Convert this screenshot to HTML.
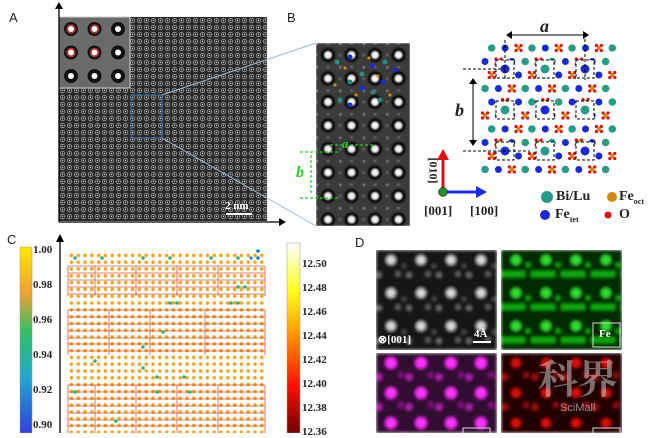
<!DOCTYPE html>
<html><head><style>
body{margin:0;background:#fff;width:652px;height:433px;overflow:hidden;position:relative;font-family:"Liberation Sans",sans-serif}
.t{position:absolute;font-family:"Liberation Serif",serif;font-weight:bold;font-size:11px;color:#222}
.L{position:absolute;font-family:"Liberation Sans",sans-serif;font-size:13px;color:#222}
</style></head><body>
<svg width="652" height="433" style="position:absolute;left:0;top:0">
<defs>
<filter id="bl" x="0" y="0" width="1" height="1"><feGaussianBlur stdDeviation="1.6"/></filter>
<filter id="bl2" x="0" y="0" width="1" height="1"><feGaussianBlur stdDeviation="0.8"/></filter>
<pattern id="ga" x="59" y="17" width="7" height="7" patternUnits="userSpaceOnUse">
<rect width="7" height="7" fill="#2b2b2b"/><circle cx="3.5" cy="3.5" r="2.2" fill="none" stroke="#999" stroke-width="0.8"/><circle cx="3.5" cy="3.5" r="0.7" fill="#ccc"/></pattern>
<pattern id="gi" x="59" y="17" width="23.5" height="23.5" patternUnits="userSpaceOnUse">
<rect width="23.5" height="23.5" fill="#6a6a6a"/><circle cx="12" cy="12" r="7" fill="#111"/><circle cx="12" cy="12" r="3" fill="#fff"/></pattern>
<pattern id="gb" x="316" y="43" width="23.5" height="23.5" patternUnits="userSpaceOnUse">
<rect width="23.5" height="23.5" fill="#3a3a3a"/><circle cx="12" cy="12" r="7.5" fill="#0a0a0a"/><circle cx="12" cy="12" r="3.5" fill="#f4f4f4"/><circle cx="0" cy="0" r="2" fill="#999"/><circle cx="12" cy="0" r="1.3" fill="#888"/><circle cx="0" cy="12" r="1.3" fill="#888"/></pattern>
<pattern id="gc" x="68" y="252" width="6.8" height="6.8" patternUnits="userSpaceOnUse">
<rect width="6.8" height="6.8" fill="#fff"/><circle cx="3.4" cy="3.4" r="1.8" fill="#f3a328"/></pattern>
<pattern id="gd" x="376" y="250" width="30" height="33" patternUnits="userSpaceOnUse">
<rect width="30" height="33" fill="#151515"/><circle cx="15" cy="10" r="4.5" fill="#ddd"/><circle cx="3" cy="25" r="2.5" fill="#777"/><circle cx="22" cy="24" r="2.5" fill="#666"/><circle cx="28" cy="16" r="2" fill="#555"/></pattern>
<pattern id="gg" x="501" y="250" width="30" height="33" patternUnits="userSpaceOnUse">
<rect width="30" height="33" fill="#062a06"/><circle cx="15" cy="10" r="5" fill="#3d3"/><rect x="0" y="21" width="24" height="6" fill="#1a1"/><circle cx="27" cy="15" r="2.5" fill="#1a1"/></pattern>
<pattern id="gm" x="376" y="353" width="30" height="30" patternUnits="userSpaceOnUse">
<rect width="30" height="30" fill="#300830"/><circle cx="15" cy="10" r="5.5" fill="#f3f"/><circle cx="3" cy="24" r="3.5" fill="#a2a"/><circle cx="25" cy="22" r="3" fill="#818"/></pattern>
<pattern id="gr" x="501" y="353" width="30" height="30" patternUnits="userSpaceOnUse">
<rect width="30" height="30" fill="#220404"/><circle cx="15" cy="10" r="4.5" fill="#d11"/><circle cx="4" cy="24" r="3.5" fill="#911"/><circle cx="25" cy="22" r="3" fill="#811"/></pattern>
<linearGradient id="cl" x1="0" y1="0" x2="0" y2="1"><stop offset="0" stop-color="#ffea00"/><stop offset=".25" stop-color="#f0a030"/><stop offset=".45" stop-color="#30c060"/><stop offset=".7" stop-color="#20a8d0"/><stop offset="1" stop-color="#3040e0"/></linearGradient>
<linearGradient id="cr" x1="0" y1="0" x2="0" y2="1"><stop offset="0" stop-color="#fff"/><stop offset=".25" stop-color="#ffff20"/><stop offset=".45" stop-color="#ffa500"/><stop offset=".75" stop-color="#ff1000"/><stop offset="1" stop-color="#700000"/></linearGradient>
</defs>
<!-- A -->
<rect x="59" y="17" width="208" height="204" fill="url(#ga)"/>
<rect x="59" y="17" width="71" height="71" fill="url(#gi)" stroke="#ccc"/>
<g fill="none" stroke="#c03030" stroke-width="1.5"><circle cx="71" cy="29" r="4"/><circle cx="94.5" cy="29" r="4"/><circle cx="71" cy="52.5" r="4"/><circle cx="94.5" cy="52.5" r="4"/></g>
<rect x="131" y="95" width="31" height="43" fill="none" stroke="#3a6a9a" stroke-width="1.2"/>
<line x1="162" y1="95" x2="316" y2="43" stroke="#9ab8d8"/><line x1="162" y1="138" x2="316" y2="226" stroke="#9ab8d8"/>
<line x1="59" y1="222" x2="59" y2="8" stroke="#000" stroke-width="1.3"/><path d="M55,9 L59,2 L63,9Z"/>
<line x1="59" y1="222" x2="280" y2="222" stroke="#000" stroke-width="1.3"/><path d="M279,218 L286,222 L279,226Z"/>
<rect x="226" y="213" width="26" height="2" fill="#fff"/>
<!-- B -->
<rect x="316" y="43" width="94" height="183" fill="url(#gb)" filter="url(#bl2)"/>
<g fill="#2a8a80"><circle cx="337" cy="62" r="2.5"/><circle cx="362" cy="74" r="2.5"/><circle cx="385" cy="62" r="2.5"/><circle cx="350" cy="82" r="2.5"/><circle cx="373" cy="92" r="2.5"/><circle cx="340" cy="100" r="2.5"/><circle cx="380" cy="100" r="2.5"/></g>
<g fill="#1a2ad0"><circle cx="350" cy="57" r="2.5"/><circle cx="372" cy="66" r="2.5"/><circle cx="362" cy="88" r="2.5"/><circle cx="350" cy="105" r="2.5"/><circle cx="383" cy="82" r="2.5"/><circle cx="395" cy="70" r="2.5"/></g>
<g fill="#d08a10"><circle cx="345" cy="68" r="1.6"/><circle cx="369" cy="58" r="1.6"/><circle cx="356" cy="95" r="1.6"/><circle cx="378" cy="76" r="1.6"/><circle cx="390" cy="95" r="1.6"/><circle cx="335" cy="85" r="1.6"/></g>
<g stroke="#2c2" stroke-width="1.2" stroke-dasharray="3,2" fill="none"><line x1="300" y1="152" x2="340" y2="152"/><line x1="300" y1="198" x2="340" y2="198"/><line x1="311" y1="155" x2="311" y2="195"/><line x1="330" y1="145" x2="375" y2="145"/></g>
<!-- crystal -->
<g id="cry"></g>
<g>
<line x1="512" y1="35" x2="583" y2="35" stroke="#000"/><path d="M512,31 L506,35 L512,39Z M583,31 L589,35 L583,39Z"/>
<line x1="473" y1="84" x2="473" y2="140" stroke="#000"/><path d="M469,84 L473,78 L477,84Z M469,140 L473,146 L477,140Z"/>
<g stroke="#000" stroke-dasharray="3,2"><line x1="463" y1="69" x2="505" y2="69"/><line x1="463" y1="151" x2="530" y2="151"/><line x1="505" y1="40" x2="505" y2="80"/><line x1="585" y1="34" x2="585" y2="80"/></g>
</g>
<!-- axes -->
<line x1="443" y1="192" x2="443" y2="158" stroke="#e01010" stroke-width="3"/><path d="M437,160 L443,149 L449,160Z" fill="#e01010"/>
<line x1="443" y1="192" x2="478" y2="192" stroke="#1a30e0" stroke-width="3"/><path d="M476,186 L487,192 L476,198Z" fill="#1a30e0"/>
<circle cx="443" cy="192" r="4.5" fill="#2a8a2a" stroke="#000" stroke-width=".5"/>
<circle cx="547" cy="197" r="6" fill="#2a9a8a"/><circle cx="612" cy="197" r="5" fill="#d08a10"/>
<circle cx="545" cy="215" r="5" fill="#1a2ad0"/><circle cx="608" cy="215" r="3.5" fill="#e01010"/>
<!-- C -->
<rect x="20" y="247" width="12" height="186" fill="url(#cl)" stroke="#999" stroke-width=".5"/>
<rect x="287" y="243" width="13" height="190" fill="url(#cr)" stroke="#999" stroke-width=".5"/>
<rect x="66" y="250" width="200" height="183" fill="url(#gc)"/>
<g stroke="#c83a20" stroke-width="0.8" fill="none" opacity=".85">
<path d="M68,266 H265 M68,273 H265 M68,280 H265 M68,287 H265 M68,294 H265 M68,310 H265 M68,317 H265 M68,324 H265 M68,331 H265 M68,338 H265 M68,344 H265 M68,351 H265 M68,385 H265 M68,392 H265 M68,399 H265 M68,406 H265 M68,413 H265 M68,420 H265 M68,426 H265"/>
<path d="M68,266 V296 M95,266 V296 M136,266 V296 M177,266 V296 M218,266 V296 M265,266 V296 M68,310 V355 M109,310 V355 M150,310 V355 M205,310 V355 M265,310 V355 M68,385 V433 M95,385 V433 M136,385 V433 M177,385 V433 M218,385 V433 M265,385 V433"/>
</g>
<g fill="#30b070"><circle cx="75" cy="258" r="1.8"/><circle cx="102" cy="258" r="1.8"/><circle cx="143" cy="258" r="1.8"/><circle cx="170" cy="258" r="1.8"/><circle cx="211" cy="258" r="1.8"/><circle cx="238" cy="258" r="1.8"/><circle cx="238" cy="287" r="1.8"/><circle cx="245" cy="287" r="1.8"/><circle cx="231" cy="303" r="1.8"/><circle cx="238" cy="303" r="1.8"/><circle cx="170" cy="303" r="1.8"/><circle cx="177" cy="303" r="1.8"/><circle cx="163" cy="332" r="1.8"/><circle cx="143" cy="347" r="1.8"/><circle cx="95" cy="361" r="1.8"/><circle cx="143" cy="368" r="1.8"/><circle cx="157" cy="377" r="1.8"/><circle cx="184" cy="377" r="1.8"/><circle cx="157" cy="392" r="1.8"/><circle cx="190" cy="392" r="1.8"/><circle cx="116" cy="421" r="1.8"/><circle cx="75" cy="392" r="1.8"/></g>
<g fill="#1080c0"><circle cx="258" cy="251" r="1.8"/><circle cx="258" cy="258" r="1.8"/><circle cx="251" cy="258" r="1.6"/></g>
<line x1="60" y1="433" x2="60" y2="240" stroke="#000" stroke-width="1.3"/><path d="M56,242 L60,234 L64,242Z"/>
<!-- D -->
<rect x="376" y="250" width="121" height="100" fill="url(#gd)" filter="url(#bl)"/>
<rect x="501" y="250" width="121" height="100" fill="url(#gg)" filter="url(#bl)"/>
<rect x="376" y="353" width="121" height="80" fill="url(#gm)" filter="url(#bl)"/>
<rect x="501" y="353" width="121" height="80" fill="url(#gr)" filter="url(#bl)"/>
<rect x="593" y="323" width="27" height="24" fill="none" stroke="#ddd"/>
<rect x="463" y="428" width="27" height="10" fill="none" stroke="#ddd"/>
<rect x="593" y="428" width="27" height="10" fill="none" stroke="#ddd"/>
<rect x="473" y="341" width="18" height="2" fill="#fff"/>
</svg>
<script>
(function(){var g=document.getElementById('cry'),s='';
function c(x,y,r,f){s+='<circle cx="'+x+'" cy="'+y+'" r="'+r+'" fill="'+f+'"/>';}
function O4(x,y){s+='<g fill="#e01010"><circle cx="'+(x-2.5)+'" cy="'+(y-2.5)+'" r="1.6"/><circle cx="'+(x+2.5)+'" cy="'+(y-2.5)+'" r="1.6"/><circle cx="'+(x-2.5)+'" cy="'+(y+2.5)+'" r="1.6"/><circle cx="'+(x+2.5)+'" cy="'+(y+2.5)+'" r="1.6"/></g>';c(x,y,2.2,'#d08a10');}
for(var r=0;r<10;r++){var y=48+r*13.5;var off=(r%2)?0:6.7;
for(var k=0;k<10;k++){var x=485+off+k*13.4;if(x>615)continue;
var t=(k+r)%3;
if(r%3==1){ if(k%3==1) O4(x,y); else if(k%2) c(x,y,3.8,'#2a9a8a'); else c(x,y,3.5,'#1a2ad0');}
else{ if(t==0) c(x,y,3.8,'#2a9a8a'); else if(t==1) c(x,y,3.5,'#1a2ad0'); else O4(x,y);}
}}
for(var r=0;r<3;r++)for(var k=0;k<3;k++){var x=505+k*40,y=69+r*41;s+='<rect x="'+(x-9)+'" y="'+(y-9)+'" width="18" height="18" fill="#fff" stroke="#000" stroke-dasharray="3,2"/>';c(x,y,4.5,(r+k)%2?'#2a9a8a':'#1a2ad0');}
g.innerHTML=s;})();
</script>
<div class="L" style="left:9px;top:10px">A</div>
<div class="L" style="left:287px;top:10px">B</div>
<div class="L" style="left:7px;top:232px">C</div>
<div class="L" style="left:355px;top:235px">D</div>
<div class="t" style="left:225px;top:200px;color:#fff;font-size:11px">2 nm</div>
<div class="t" style="left:296px;top:164px;color:#2c2;font-style:italic;font-size:16px">b</div>
<div class="t" style="left:342px;top:136px;color:#2c2;font-style:italic;font-size:13px">a</div>
<div class="t" style="left:540px;top:16px;font-style:italic;font-size:18px">a</div>
<div class="t" style="left:455px;top:100px;font-style:italic;font-size:18px">b</div>
<div class="t" style="left:420px;top:163px;font-size:12px;transform:rotate(90deg)">[010]</div>
<div class="t" style="left:424px;top:203px;font-size:13px">[001]</div>
<div class="t" style="left:470px;top:203px;font-size:13px">[100]</div>
<div class="t" style="left:556px;top:189px;font-size:14px">Bi/Lu</div>
<div class="t" style="left:619px;top:189px;font-size:14px">Fe<sub style="font-size:8px">oct</sub></div>
<div class="t" style="left:555px;top:207px;font-size:14px">Fe<sub style="font-size:8px">tet</sub></div>
<div class="t" style="left:619px;top:207px;font-size:14px">O</div>
<div class="t" style="left:33px;top:244px">1.00</div><div class="t" style="left:33px;top:279px">0.98</div><div class="t" style="left:33px;top:314px">0.96</div><div class="t" style="left:33px;top:349px">0.94</div><div class="t" style="left:33px;top:384px">0.92</div><div class="t" style="left:33px;top:419px">0.90</div>
<div class="t" style="left:302px;top:258px">12.50</div><div class="t" style="left:302px;top:282px">12.48</div><div class="t" style="left:302px;top:306px">12.46</div><div class="t" style="left:302px;top:330px">12.44</div><div class="t" style="left:302px;top:354px">12.42</div><div class="t" style="left:302px;top:378px">12.40</div><div class="t" style="left:302px;top:402px">12.38</div><div class="t" style="left:302px;top:426px">12.36</div>
<div class="t" style="left:378px;top:333px;color:#fff;font-size:11px">⊗[001]</div>
<div class="t" style="left:474px;top:328px;color:#fff">4Å</div>
<div class="t" style="left:599px;top:328px;color:#fff">Fe</div>
<div style="position:absolute;left:538px;top:348px;font-family:'Liberation Serif','Noto Serif CJK SC',serif;font-size:40px;font-weight:bold;color:rgba(200,200,200,.55)">科界</div>
<div style="position:absolute;left:560px;top:402px;font-size:11px;color:rgba(200,200,200,.7)">SciMall</div>
</body></html>
